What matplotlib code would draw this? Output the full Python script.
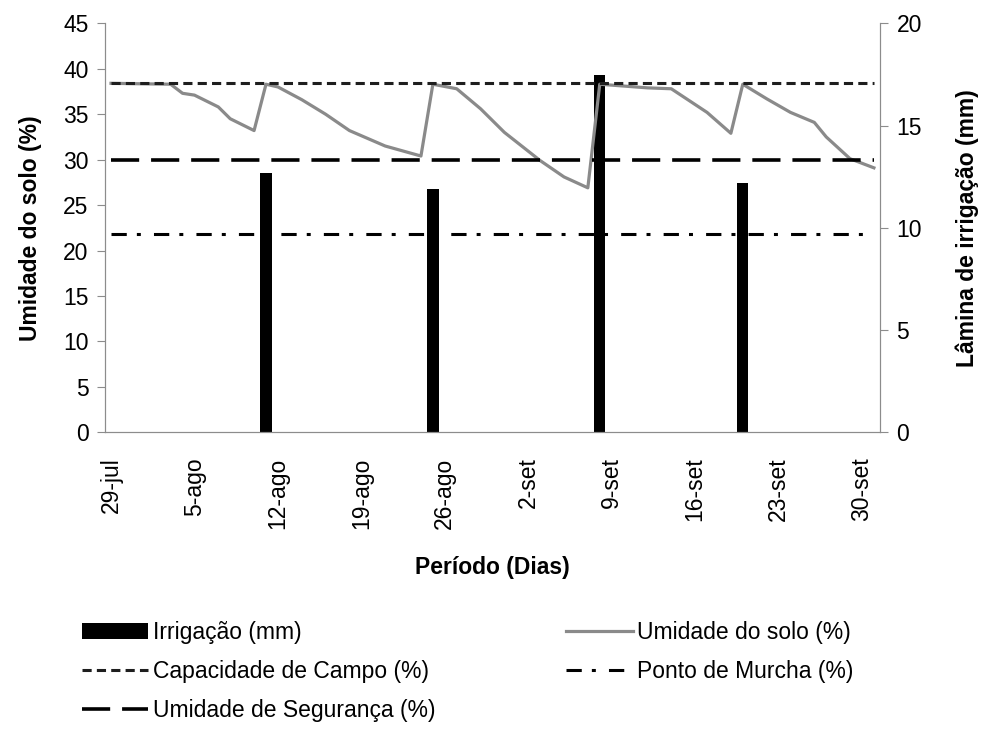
import matplotlib
matplotlib.use("Agg")
import matplotlib.pyplot as plt

plt.rcParams['font.family'] = ['Liberation Sans', 'DejaVu Sans']

# dias contados a partir de 29-jul
datas = ['29-jul', '5-ago', '12-ago', '19-ago', '26-ago', '2-set', '9-set', '16-set', '23-set', '30-set']
dias_datas = [0, 7, 14, 21, 28, 35, 42, 49, 56, 63]

dias_umidade = [0, 5, 6, 7, 9, 10, 12, 13, 14, 16, 18, 20, 23, 26, 27, 29, 31, 33, 36, 38, 40,
                41, 45, 47, 50, 52, 53, 55, 57, 59, 60, 62, 64]
umidade = [38.4, 38.3, 37.3, 37.1, 35.8, 34.5, 33.2, 38.3, 38.0, 36.6, 35.0, 33.2, 31.5, 30.4, 38.3,
           37.8, 35.6, 33.0, 29.9, 28.1, 26.9, 38.3, 37.9, 37.8, 35.2, 32.9, 38.3, 36.7, 35.2, 34.1,
           32.5, 30.1, 29.1]

dias_irrigacao = [13, 27, 41, 53]
irrigacao = [12.7, 11.9, 17.45, 12.2]

dias_limites = [0, 64]
capacidade_campo = 38.4
umidade_seguranca = 30.0
ponto_murcha = 21.8

fig = plt.figure(figsize=(9.82, 7.29), dpi=100)
ax = fig.add_axes([0.107, 0.407, 0.789, 0.561])
ax2 = ax.twinx()
ax.set_zorder(ax2.get_zorder() + 1)
ax.patch.set_visible(False)

b = ax2.bar(dias_irrigacao, irrigacao, width=0.95, color='black', label='Irrigação (mm)')

l1, = ax.plot(dias_umidade, umidade, color='#8a8a8a', lw=2.3, label='Umidade do solo (%)')
l2, = ax.plot(dias_limites, [capacidade_campo] * 2, color='#1e1e1e', lw=2.2,
              linestyle=(0, (3, 1.7)), label='Capacidade de Campo (%)')
l3, = ax.plot(dias_limites, [ponto_murcha] * 2, color='black', lw=2.2,
              linestyle=(0, (5, 3.3, 1.3, 4.3)), label='Ponto de Murcha (%)')
l4, = ax.plot(dias_limites, [umidade_seguranca] * 2, color='black', lw=2.6,
              linestyle=(0, (7.8, 3.3)), label='Umidade de Segurança (%)')

ax.set_xlim(-0.5, 64.5)
ax.set_ylim(0, 45)
ax.set_yticks(range(0, 46, 5))
ax2.set_ylim(0, 20)
ax2.set_yticks(range(0, 21, 5))
ax.set_xticks(dias_datas)
ax.set_xticklabels(datas, rotation=90)

for a in (ax, ax2):
    for s in a.spines.values():
        s.set_color('#8c8c8c')
    a.spines['top'].set_visible(False)
ax.tick_params(axis='y', labelsize=16.5, length=6, color='#8c8c8c', pad=6)
ax2.tick_params(axis='y', labelsize=16.5, length=6, color='#8c8c8c', pad=6)
ax.tick_params(axis='x', labelsize=16.5, length=0, pad=18)

ax.set_ylabel('Umidade do solo (%)', fontsize=16.5, fontweight='bold', labelpad=15)
ax2.set_ylabel('Lâmina de irrigação (mm)', fontsize=16.5, fontweight='bold', labelpad=24)
ax.set_xlabel('Período (Dias)', fontsize=16.5, fontweight='bold', labelpad=20)

handles = [b, l2, l4, l1, l3]
fig.legend(handles, [h.get_label() for h in handles], loc='upper left',
           bbox_to_anchor=(0.0835, 0.148), ncol=2, frameon=False, fontsize=16.5,
           borderpad=0, borderaxespad=0, handlelength=2.9, handletextpad=0.2,
           labelspacing=0.7, columnspacing=5.7)

fig.savefig('out.png', dpi=100)
